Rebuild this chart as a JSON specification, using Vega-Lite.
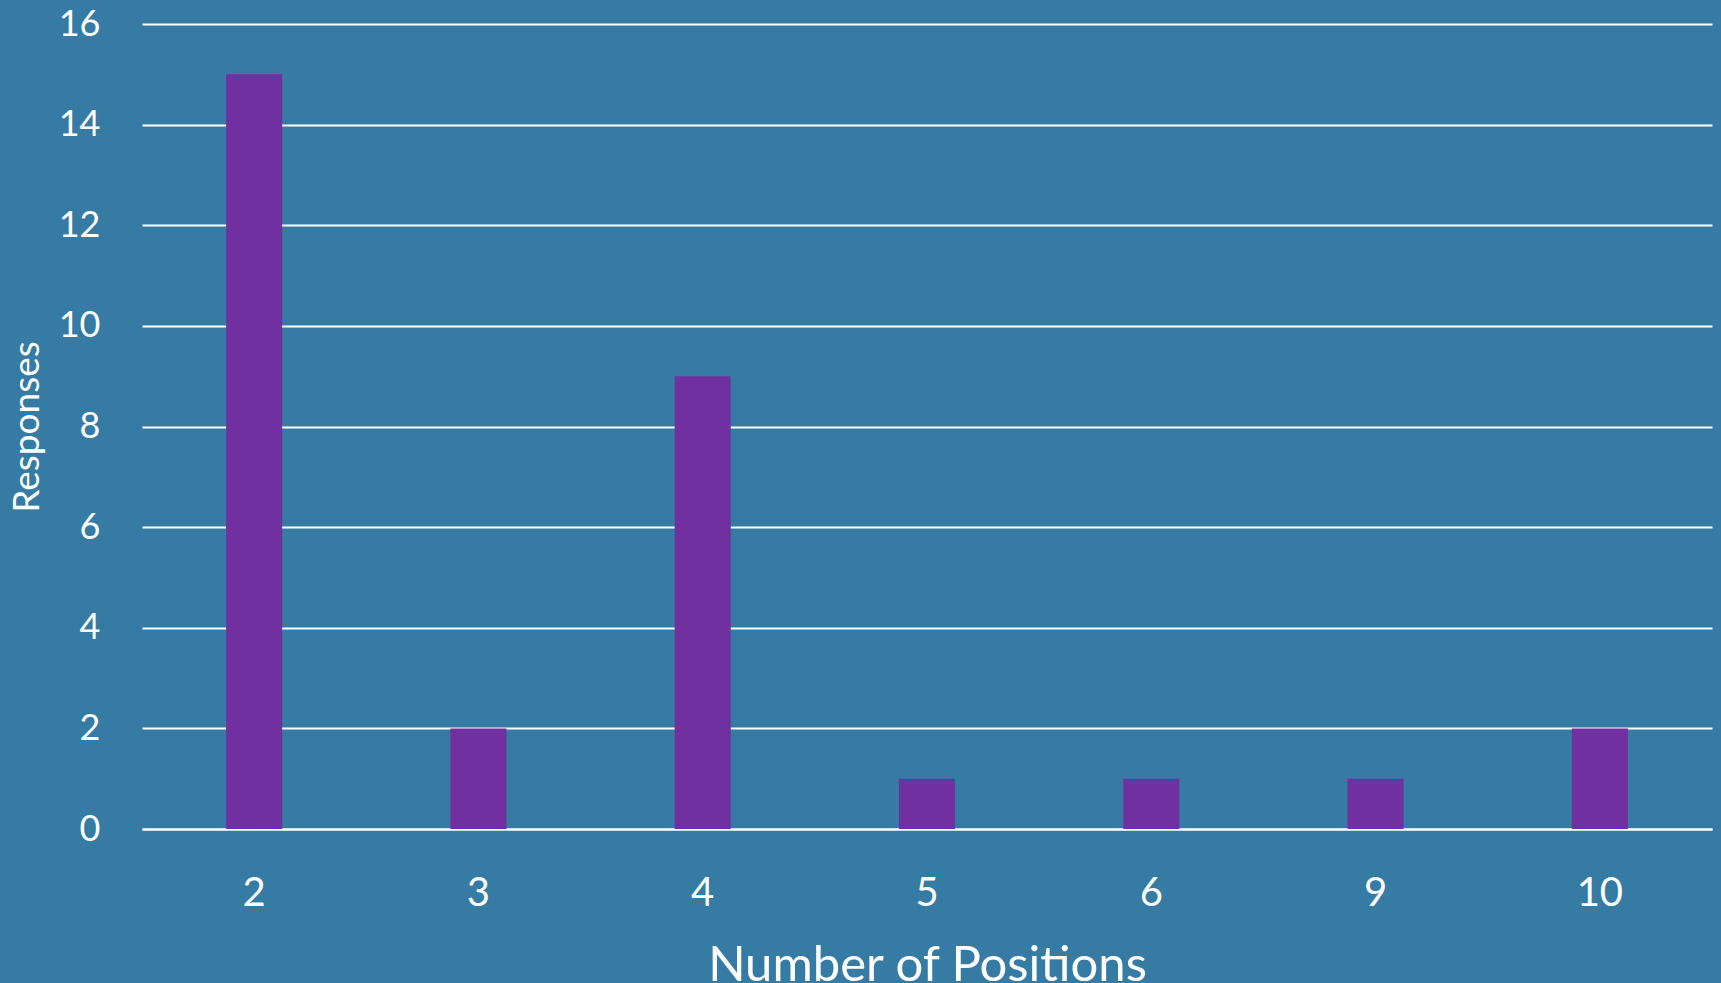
{
  "$schema": "https://vega.github.io/schema/vega-lite/v6.json",
  "width": 1570,
  "height": 805,
  "autosize": {"type": "none"},
  "padding": {"left": 142, "top": 24, "right": 9, "bottom": 154},
  "background": "#357ba4",
  "config": {
    "view": {"stroke": null},
    "font": "Lato",
    "axis": {"labelColor": "#ffffff", "titleColor": "#ffffff", "titleFontWeight": "normal", "labelFont": "Lato", "titleFont": "Lato"}
  },
  "data": {
    "values": [
      {"positions": "2", "responses": 15},
      {"positions": "3", "responses": 2},
      {"positions": "4", "responses": 9},
      {"positions": "5", "responses": 1},
      {"positions": "6", "responses": 1},
      {"positions": "9", "responses": 1},
      {"positions": "10", "responses": 2}
    ]
  },
  "mark": {"type": "bar", "color": "#7030a0"},
  "encoding": {
    "x": {
      "field": "positions",
      "type": "ordinal",
      "sort": null,
      "scale": {"paddingInner": 0.75, "paddingOuter": 0.375},
      "axis": {
        "title": "Number of Positions",
        "titleFontSize": 49,
        "titlePadding": 28,
        "labelFontSize": 40,
        "labelAngle": 0,
        "labelPadding": 44,
        "ticks": false,
        "domainColor": "#ffffff",
        "domainWidth": 2
      }
    },
    "y": {
      "field": "responses",
      "type": "quantitative",
      "scale": {"domain": [0, 16]},
      "axis": {
        "title": "Responses",
        "titleFontSize": 37,
        "titlePadding": 12,
        "labelFontSize": 36,
        "labelPadding": 42,
        "values": [0, 2, 4, 6, 8, 10, 12, 14, 16],
        "ticks": false,
        "domain": false,
        "gridColor": "#ffffff",
        "gridWidth": 2,
        "gridOpacity": 1
      }
    }
  }
}
